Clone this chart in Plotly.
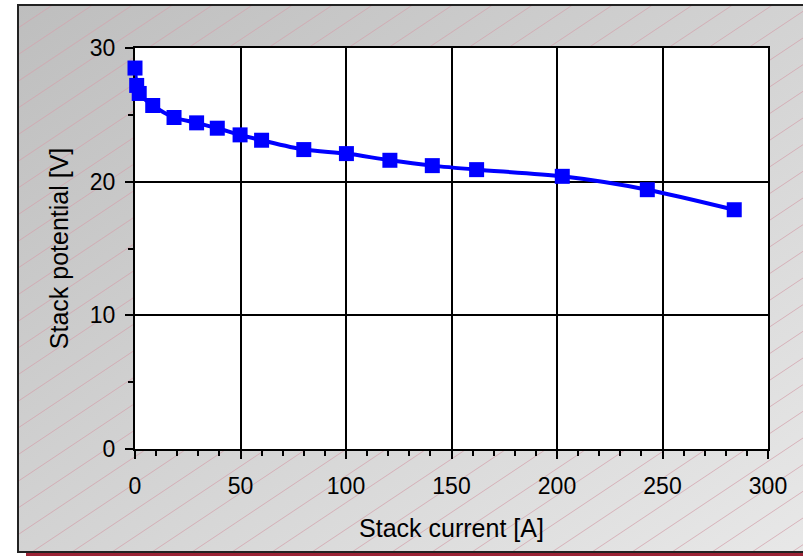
import base64
import plotly.graph_objects as go

# stack polarisation curve
current = [0, 0.8, 2.0, 8.4, 18.5, 29.2, 39, 49.8, 60, 80, 100.2, 120.8, 140.9, 161.9, 202.5, 242.8, 284]
potential = [28.5, 27.2, 26.6, 25.7, 24.8, 24.4, 24.0, 23.5, 23.1, 22.4, 22.1, 21.6, 21.2, 20.9, 20.4, 19.4, 17.9]

x_ticks = [0, 50, 100, 150, 200, 250, 300]
y_ticks = [0, 10, 20, 30]

W, H = 803, 556
L, R, T, B = 135, 768, 48, 449

# excel-ish chart area: grey gradient + thin diagonal hatch
hatch = ""
for k in range(-30, 60):
    x0 = -400 + k * 40
    hatch += f'<line x1="{x0}" y1="600" x2="{x0 + 900}" y2="0" stroke="#d4a2ac" stroke-width="0.75"/>'
svg = f'''<svg xmlns="http://www.w3.org/2000/svg" width="{W}" height="{H}" viewBox="0 0 {W} {H}">
<defs>
<linearGradient id="g" x1="0" y1="0" x2="1" y2="1">
<stop offset="0" stop-color="#bebebe"/><stop offset="1" stop-color="#e8e8e8"/>
</linearGradient>
<clipPath id="c"><rect x="18" y="5" width="800" height="547"/></clipPath>
</defs>
<rect x="0" y="0" width="{W}" height="{H}" fill="white"/>
<rect x="18" y="5" width="800" height="547" fill="url(#g)"/>
<g clip-path="url(#c)">{hatch}</g>
<rect x="18" y="5" width="800" height="547" fill="none" stroke="#222" stroke-width="2"/>
<line x1="26" y1="554.5" x2="803" y2="554.5" stroke="#9b2335" stroke-width="3"/>
<rect x="{L}" y="{T}" width="{R - L}" height="{B - T}" fill="white"/>
</svg>'''
src = "data:image/svg+xml;base64," + base64.b64encode(svg.encode()).decode()

pw, ph = R - L, B - T

fig = go.Figure()
fig.add_trace(go.Scatter(
    x=current, y=potential, mode="lines+markers",
    line=dict(color="#0000ff", width=4, shape="spline", smoothing=0.8),
    marker=dict(symbol="square", size=15, color="#0000ff"),
    cliponaxis=False, showlegend=False,
))

fig.add_layout_image(dict(
    source=src, xref="paper", yref="paper",
    x=-L / pw, y=1 + T / ph, sizex=W / pw, sizey=H / ph,
    xanchor="left", yanchor="top", sizing="stretch", layer="below",
))

font = dict(family="Liberation Sans, Arial, sans-serif", size=23, color="black")
tfont = dict(family="Liberation Sans, Arial, sans-serif", size=25, color="black")

fig.update_xaxes(
    range=[0, 300], tickvals=x_ticks, showgrid=True, gridcolor="black", gridwidth=1.5,
    showline=True, linecolor="black", linewidth=2, mirror=True,
    ticks="outside", ticklen=8, tickwidth=2, tickcolor="black", ticklabelstandoff=7,
    minor=dict(dtick=10, ticks="outside", ticklen=5, tickwidth=1.5, tickcolor="black", showgrid=False),
    zeroline=False, layer="below traces", tickfont=font,
    title=dict(text="Stack current [A]", font=tfont, standoff=22),
)
fig.update_yaxes(
    range=[0, 30], tickvals=y_ticks, showgrid=True, gridcolor="black", gridwidth=1.5,
    showline=True, linecolor="black", linewidth=2, mirror=True,
    ticks="outside", ticklen=8, tickwidth=2, tickcolor="black", ticklabelstandoff=5,
    minor=dict(dtick=5, ticks="outside", ticklen=5, tickwidth=1.5, tickcolor="black", showgrid=False),
    zeroline=False, layer="below traces", tickfont=font,
    title=dict(text="Stack potential [V]", font=tfont, standoff=14),
)

fig.update_layout(
    width=W, height=H,
    margin=dict(l=L, r=W - R, t=T, b=H - B),
    paper_bgcolor="white", plot_bgcolor="rgba(0,0,0,0)",
)

fig.write_html("out.html", config={"displayModeBar": False},
               post_script="document.body.style.margin='0';")
